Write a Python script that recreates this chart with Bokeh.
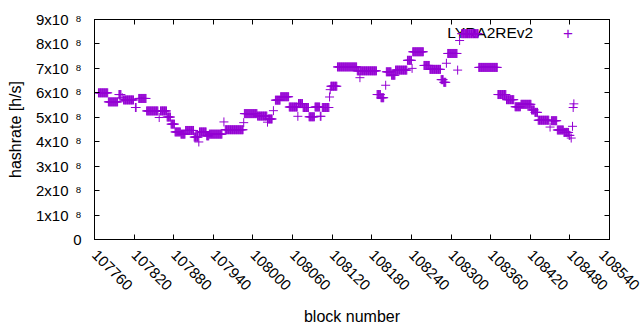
import numpy as np
from bokeh.plotting import figure
from bokeh.models import (Range1d, FixedTicker, LinearAxis, Label, ColumnDataSource,
                          CustomJSTickFormatter, BasicTickFormatter)
from bokeh.embed import file_html
from bokeh.resources import INLINE

series_name = "LYRA2REv2"
x_label = "block number"
y_label = "hashrate [h/s]"

# runs of consecutive blocks that share the same hashrate estimate (block numbers inclusive)
run_start = [107766, 107781, 107797, 107802, 107804, 107822, 107827, 107839, 107858, 107860,
             107870, 107876, 107882, 107891, 107898, 107911, 107918, 107919, 107930, 107934,
             107956, 107958, 107986, 107987, 108007, 108022, 108023, 108031, 108034, 108042,
             108055, 108068, 108069, 108076, 108085, 108094, 108102, 108105, 108116, 108117,
             108118, 108128, 108158, 108162, 108163, 108188, 108194, 108201, 108202, 108210,
             108216, 108234, 108241, 108242, 108259, 108268, 108285, 108289, 108293, 108295,
             108310, 108313, 108316, 108342, 108371, 108384, 108397, 108406, 108422, 108427,
             108432, 108450, 108452, 108461, 108471, 108479, 108482, 108484, 108485, 108486]
run_end = [107780, 107795, 107800, 107802, 107819, 107823, 107838, 107856, 107858, 107869,
           107875, 107881, 107890, 107897, 107910, 107917, 107918, 107929, 107933, 107953,
           107956, 107985, 107986, 108006, 108021, 108022, 108029, 108031, 108041, 108054,
           108067, 108068, 108075, 108084, 108093, 108101, 108103, 108115, 108116, 108117,
           108127, 108157, 108161, 108162, 108187, 108193, 108198, 108201, 108209, 108215,
           108233, 108240, 108241, 108258, 108267, 108284, 108288, 108292, 108293, 108309,
           108310, 108313, 108341, 108370, 108383, 108395, 108405, 108421, 108426, 108431,
           108448, 108450, 108460, 108470, 108478, 108480, 108482, 108484, 108485, 108486]
run_rate = [6.00e8, 5.63e8, 5.93e8, 5.80e8, 5.71e8, 5.40e8, 5.77e8, 5.26e8, 4.99e8, 5.26e8,
            5.01e8, 4.72e8, 4.40e8, 4.31e8, 4.46e8, 4.19e8, 3.99e8, 4.40e8, 4.24e8, 4.31e8,
            4.81e8, 4.49e8, 4.78e8, 5.15e8, 5.05e8, 4.80e8, 4.93e8, 5.27e8, 5.70e8, 5.84e8,
            5.42e8, 5.04e8, 5.56e8, 5.40e8, 5.02e8, 5.42e8, 5.04e8, 5.40e8, 5.83e8, 6.13e8,
            6.27e8, 7.06e8, 6.90e8, 6.62e8, 6.90e8, 5.93e8, 5.80e8, 6.31e8, 6.86e8, 6.72e8,
            6.93e8, 7.33e8, 7.00e8, 7.68e8, 7.12e8, 6.96e8, 6.54e8, 6.43e8, 7.21e8, 7.61e8,
            6.93e8, 8.14e8, 8.42e8, 7.04e8, 5.93e8, 5.72e8, 5.43e8, 5.53e8, 5.30e8, 5.20e8,
            4.88e8, 4.60e8, 4.86e8, 4.48e8, 4.38e8, 4.26e8, 4.15e8, 4.63e8, 5.40e8, 5.55e8]

x_ticks = [107760, 107820, 107880, 107940, 108000, 108060, 108120, 108180, 108240,
           108300, 108360, 108420, 108480, 108540]
y_ticks = [0, 1e8, 2e8, 3e8, 4e8, 5e8, 6e8, 7e8, 8e8, 9e8]

blocks, rates = [], []
for s, e, r in zip(run_start, run_end, run_rate):
    for b in range(s, e + 1):
        blocks.append(b)
        rates.append(r)
src = ColumnDataSource(dict(block=blocks, rate=rates))

COLOR = "#9400d3"
FONT = "Liberation Sans"

p = figure(width=640, height=330, output_backend="svg", toolbar_location=None,
           x_range=Range1d(x_ticks[0], x_ticks[-1]), y_range=Range1d(y_ticks[0], y_ticks[-1]),
           min_border_left=94, min_border_right=31, min_border_top=19, min_border_bottom=91)
p.grid.visible = False
p.outline_line_color = "black"
p.outline_line_alpha = 1.0
p.background_fill_color = "white"
p.border_fill_color = "white"

xa = p.xaxis[0]
xa.ticker = FixedTicker(ticks=x_ticks)
xa.formatter = BasicTickFormatter(use_scientific=False)
xa.major_label_orientation = -np.pi / 4
xa.axis_label = x_label

# inner left axis: frame ticks, the "0" and the superscript exponents
ya = p.yaxis[0]
ya.ticker = FixedTicker(ticks=y_ticks)
ya.formatter = CustomJSTickFormatter(code="return tick == 0 ? '0' : '\u2078';")
ya.major_label_standoff = 13

for ax in (xa, ya):
    ax.major_tick_in = 5
    ax.major_tick_out = 0
    ax.minor_tick_in = 0
    ax.minor_tick_out = 0
    ax.axis_line_color = "black"
    ax.major_tick_line_color = "black"
    ax.major_label_text_font = FONT
    ax.major_label_text_font_size = "15px"
    ax.major_label_text_color = "black"
    ax.axis_label_text_font = FONT
    ax.axis_label_text_font_size = "16px"
    ax.axis_label_text_font_style = "normal"
    ax.axis_label_text_color = "black"
xa.major_label_standoff = 13
xa.axis_label_standoff = 10

# outer left axis: mantissa "Nx10" and the axis title
ym = LinearAxis(ticker=FixedTicker(ticks=y_ticks),
                formatter=CustomJSTickFormatter(code="return tick == 0 ? '' : (tick/1e8).toFixed(0) + 'x10';"),
                axis_line_color=None, major_tick_line_color=None, minor_tick_line_color=None,
                major_tick_in=0, major_tick_out=0, minor_tick_in=0, minor_tick_out=0,
                major_label_standoff=2, major_label_text_font=FONT,
                major_label_text_font_size="15px", major_label_text_color="black",
                axis_label=y_label, axis_label_text_font=FONT, axis_label_text_font_size="16px",
                axis_label_text_font_style="normal", axis_label_text_color="black",
                axis_label_standoff=9)
p.add_layout(ym, "left")

# mirrored tick marks on top and right borders (no labels)
for side, ticks in (("above", x_ticks), ("right", y_ticks)):
    ax = LinearAxis(ticker=FixedTicker(ticks=ticks), major_tick_in=5, major_tick_out=0,
                    minor_tick_in=0, minor_tick_out=0,
                    formatter=CustomJSTickFormatter(code="return '';"),
                    major_label_text_font_size="8px",
                    major_label_standoff=0, axis_line_color="black",
                    major_tick_line_color="black")
    p.add_layout(ax, side)

p.scatter(x="block", y="rate", source=src, marker="cross", size=9,
          line_color=COLOR, line_width=1)

p.add_layout(Label(x=438.7, y=207.5, x_units="screen", y_units="screen", text=series_name,
                   text_align="right", text_baseline="middle", text_font=FONT,
                   text_font_size="15.5px", text_color="black", level="underlay"))
p.add_layout(Label(x=473.4, y=206.7, x_units="screen", y_units="screen", text="+",
                   text_align="center", text_baseline="middle", text_font=FONT,
                   text_font_size="17px", text_color=COLOR))

open("out.html", "w").write(file_html(p, INLINE))
